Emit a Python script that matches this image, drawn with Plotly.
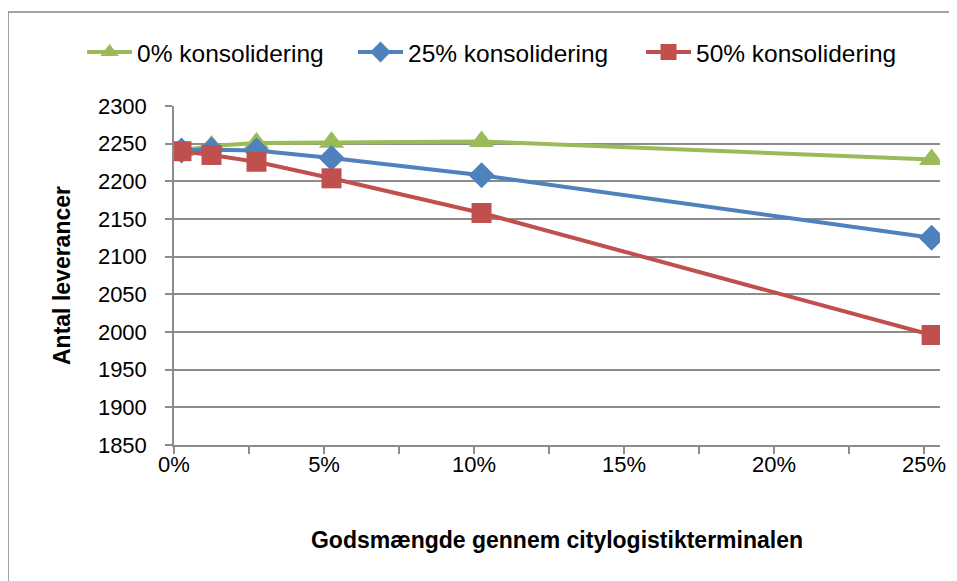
import plotly.graph_objects as go

# Data (x as fraction of goods through terminal)
x_vals = [0.0025, 0.0125, 0.0275, 0.0525, 0.1025, 0.2525]
series_names = ["0% konsolidering", "25% konsolidering", "50% konsolidering"]
green_vals = [2241, 2247, 2251, 2252, 2253, 2229]
blue_vals = [2241, 2242, 2241, 2231, 2208, 2125]
red_vals = [2240, 2235, 2226, 2204, 2158, 1996]
x_tick_vals = [0, 0.05, 0.10, 0.15, 0.20, 0.25]
x_tick_text = ["0%", "5%", "10%", "15%", "20%", "25%"]
y_tick_vals = [1850, 1900, 1950, 2000, 2050, 2100, 2150, 2200, 2250, 2300]

colors = ["#9BBB59", "#4F81BD", "#C0504D"]
symbols = ["triangle-up", "diamond", "square"]
sizes = [22, 20, 20]
legend_ids = ["legend", "legend2", "legend3"]
legend_x = [-0.120, 0.2337, 0.6097]

FONT = "Liberation Sans"

fig = go.Figure()
for name, vals, c, s, sz, lg in zip(series_names, [green_vals, blue_vals, red_vals], colors, symbols, sizes, legend_ids):
    fig.add_trace(go.Scatter(
        x=x_vals, y=vals, name=name, mode="lines+markers", legend=lg,
        line=dict(color=c, width=4),
        marker=dict(symbol=s, size=sz, color=c, line=dict(width=0)),
    ))

grid = "#8C8C8C"
legend_common = dict(orientation="h", xanchor="left", y=1.159, yanchor="middle",
                     font=dict(family=FONT, size=24.5, color="black"),
                     itemwidth=45, bgcolor="rgba(0,0,0,0)")

fig.update_layout(
    width=957, height=581,
    margin=dict(l=166, r=25, t=98, b=144, autoexpand=False),
    paper_bgcolor="white", plot_bgcolor="white",
    font=dict(family=FONT, size=22, color="black"),
    showlegend=True,
    legend=dict(x=legend_x[0], **legend_common),
    legend2=dict(x=legend_x[1], **legend_common),
    legend3=dict(x=legend_x[2], **legend_common),
    xaxis=dict(
        range=[0, 0.2553], tickvals=x_tick_vals, ticktext=x_tick_text,
        showgrid=False, zeroline=False, automargin=False,
        showline=True, linecolor=grid, linewidth=1.5,
        ticks="outside", ticklen=7, tickcolor=grid, tickwidth=1.5,
        minor=dict(dtick=0.025, tick0=0, ticks="outside", ticklen=7, tickcolor=grid, tickwidth=1.5, showgrid=False),
        ticklabelstandoff=-8,
        tickfont=dict(family=FONT, size=22),
        title=dict(text="<b>Godsmængde gennem citylogistikterminalen</b>", standoff=56,
                   font=dict(family=FONT, size=23)),
    ),
    yaxis=dict(
        range=[1850, 2300], tickvals=y_tick_vals,
        showgrid=True, gridcolor=grid, gridwidth=1.5, zeroline=False, automargin=False,
        showline=True, linecolor=grid, linewidth=1.5,
        ticks="outside", ticklen=7, tickcolor=grid, tickwidth=1.5,
        ticklabelstandoff=14,
        tickfont=dict(family=FONT, size=22),
        title=dict(text="<b>Antal leverancer</b>", standoff=21,
                   font=dict(family=FONT, size=23)),
    ),
)

# outer chart border (extends past right/bottom edges like the reference)
fig.add_shape(type="rect", xref="paper", yref="paper",
              x0=-0.2167, x1=1.2, y0=-0.6, y1=1.277,
              line=dict(color="#868686", width=1.5), fillcolor="rgba(0,0,0,0)", layer="below")

fig.write_html("out.html")
